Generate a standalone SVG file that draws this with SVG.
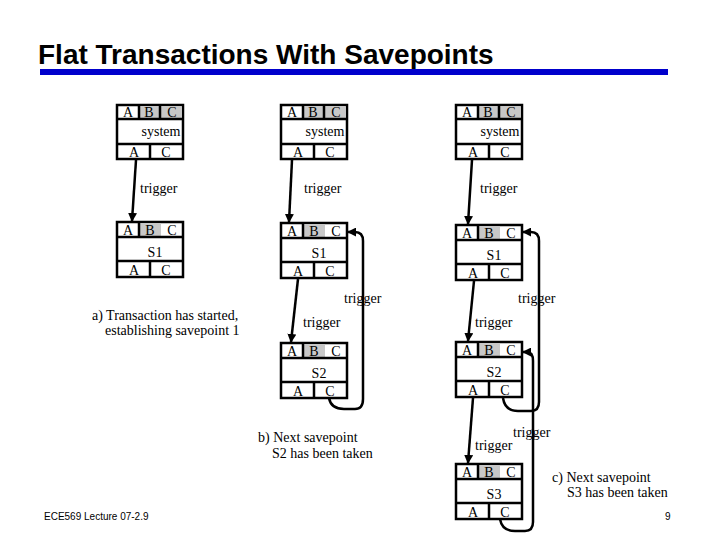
<svg xmlns="http://www.w3.org/2000/svg" width="720" height="540" viewBox="0 0 720 540">
<style>
.bx{fill:#fff;stroke:#000;stroke-width:2.5}
.gr{fill:#c8c8c8;stroke:none}
.ln{stroke:#000;stroke-width:2.5;fill:none}
.t{font-family:"Liberation Serif","Times New Roman",serif;font-size:14px;fill:#000}
.m{text-anchor:middle}
.cn{stroke:#000;stroke-width:2.5;fill:none}
</style>
<defs>
<marker id="ah" viewBox="0 0 10 10" refX="9" refY="5" markerWidth="9" markerHeight="9" markerUnits="userSpaceOnUse" orient="auto">
<path d="M0,0 L10,5 L0,10 z" fill="#000"/>
</marker>
<g id="sysbox">
<rect class="bx" x="0" y="0" width="66" height="54"/>
<rect class="gr" x="22" y="1.2" width="42.8" height="12.8"/>
<line class="ln" x1="0" y1="14" x2="66" y2="14"/>
<line class="ln" x1="0" y1="39" x2="66" y2="39"/>
<line class="ln" x1="22" y1="0" x2="22" y2="14"/>
<line class="ln" x1="43" y1="0" x2="43" y2="14" stroke-width="3"/>
<line class="ln" x1="33" y1="39" x2="33" y2="54"/>
<text class="t m" x="11" y="12">A</text>
<text class="t m" x="32" y="12">B</text>
<text class="t m" x="55" y="12">C</text>
<text class="t m" x="44" y="31">system</text>
<text class="t m" x="17" y="52">A</text>
<text class="t m" x="49" y="52">C</text>
</g>
<g id="spbox">
<rect class="bx" x="0" y="0" width="66" height="55"/>
<rect class="gr" x="22" y="1.2" width="22" height="13.8"/>
<line class="ln" x1="0" y1="15" x2="66" y2="15"/>
<line class="ln" x1="0" y1="39" x2="66" y2="39"/>
<line class="ln" x1="22" y1="0" x2="22" y2="15"/>
<line class="ln" x1="33" y1="39" x2="33" y2="55"/>
<text class="t m" x="11" y="13">A</text>
<text class="t m" x="33" y="13">B</text>
<text class="t m" x="55" y="13">C</text>
<text class="t m" x="17" y="53">A</text>
<text class="t m" x="49" y="53">C</text>
</g>
</defs>
<rect width="720" height="540" fill="#fff"/>
<g id="title">
<text x="38" y="64" font-family="Liberation Sans, Arial, sans-serif" font-size="28" font-weight="bold">Flat Transactions With Savepoints</text>
<rect x="40" y="69" width="628" height="6" fill="#0000cc"/>
</g>
<g id="a-sys"><use href="#sysbox" x="117" y="105"/></g>
<g id="a-s1"><use href="#spbox" x="117" y="222"/><text class="t m" x="155" y="257">S1</text></g>
<g id="b-sys"><use href="#sysbox" x="281" y="105"/></g>
<g id="b-s1"><use href="#spbox" x="281" y="223"/><text class="t m" x="319" y="258">S1</text></g>
<g id="b-s2"><use href="#spbox" x="281" y="343"/><text class="t m" x="319" y="378">S2</text></g>
<g id="c-sys"><use href="#sysbox" x="456" y="105"/></g>
<g id="c-s1"><use href="#spbox" x="456" y="225"/><text class="t m" x="494" y="260">S1</text></g>
<g id="c-s2"><use href="#spbox" x="456" y="342"/><text class="t m" x="494" y="377">S2</text></g>
<g id="c-s3"><use href="#spbox" x="456" y="464"/><text class="t m" x="494" y="499">S3</text></g>
<g id="connectors">
<path class="cn" d="M136,160 L132,221" marker-end="url(#ah)"/>
<path class="cn" d="M292,160 L289,222" marker-end="url(#ah)"/>
<path class="cn" d="M298,279 L291,342" marker-end="url(#ah)"/>
<path class="cn" d="M472,160 L468,224" marker-end="url(#ah)"/>
<path class="cn" d="M474,281 L468,341" marker-end="url(#ah)"/>
<path class="cn" d="M473,398 L468,463" marker-end="url(#ah)"/>
<path class="cn" d="M329,398 Q331,409 344,409 L355,409 Q363,409 363,399 L363,241 Q363,232 355,232 L348,232" marker-end="url(#ah)"/>
<path class="cn" d="M503,398 Q505,411 518,411 L531,411 Q539,411 539,402 L539,241 Q539,232 531,232 L523,232" marker-end="url(#ah)"/>
<path class="cn" d="M500,519 Q502,531 515,531 L525,531 Q533,531 533,522 L533,361 Q533,352 527,352 L523,352" marker-end="url(#ah)"/>
</g>
<g id="labels">
<text class="t" x="140" y="193">trigger</text>
<text class="t" x="304" y="193">trigger</text>
<text class="t" x="480" y="193">trigger</text>
<text class="t" x="344" y="303">trigger</text>
<text class="t" x="518" y="303">trigger</text>
<text class="t" x="303" y="327">trigger</text>
<text class="t" x="475" y="327">trigger</text>
<text class="t" x="513" y="437">trigger</text>
<text class="t" x="475" y="450">trigger</text>
<text class="t" x="92" y="320">a) Transaction has started,</text>
<text class="t" x="105" y="335">establishing savepoint 1</text>
<text class="t" x="258" y="442">b) Next savepoint</text>
<text class="t" x="272" y="458">S2 has been taken</text>
<text class="t" x="552" y="482">c) Next savepoint</text>
<text class="t" x="567" y="497">S3 has been taken</text>
<text x="44" y="520" font-family="Liberation Sans, Arial, sans-serif" font-size="10">ECE569 Lecture 07-2.9</text>
<text x="665" y="520" font-family="Liberation Sans, Arial, sans-serif" font-size="10">9</text>
</g>
</svg>
